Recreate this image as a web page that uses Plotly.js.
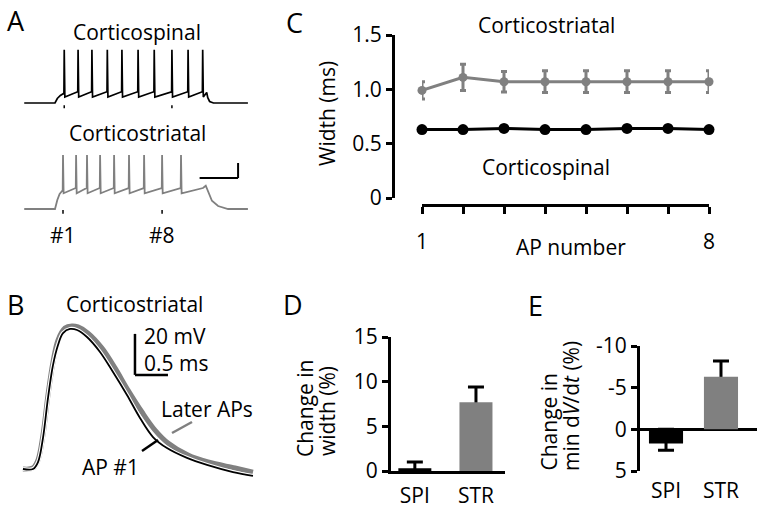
<!DOCTYPE html>
<html><head><meta charset="utf-8">
<script src="https://cdn.plot.ly/plotly-3.0.1.min.js"></script>
<style>html,body{margin:0;padding:0;background:#fff}#chart{width:760px;height:508px}</style>
</head><body><div id="chart"></div>
<script>
// ---------------- DATA ----------------
// Panel A: spike trains (time in ms, voltage in mV)
const spiSpikeT = [60, 150, 240, 340, 435, 540, 645, 760, 865, 960];
const spiPeakV = [1, 1, 1, 1, 1, 1, 1, 1, 1, 1];
const spiThreshV = [-57, -55, -55, -55, -55, -55, -55, -55, -55, -55];
const spiTroughV = [-62, -62, -62, -62, -62, -62, -62, -62, -62, -62];
const spiOnsetT = [-200, 0, 15, 35];
const spiOnsetV = [-70, -70, -64, -60];
const spiOffsetT = [986, 993, 1005, 1030, 1254];
const spiOffsetV = [-56, -63, -68, -70, -70];

const strSpikeT = [52, 137, 208, 293, 384, 481, 579, 696, 819];
const strPeakV = [2, 2, 2, 2, 2, 2, 2, 2, 2];
const strThreshV = [-45, -42, -42, -42, -42, -42, -42, -42, -42];
const strTroughV = [-49, -49, -49, -49, -49, -49, -49, -49, -49];
const strOnsetT = [-200, 0, 15, 30];
const strOnsetV = [-70, -70, -58, -50];
const strOffsetT = [962, 980, 1001, 1020, 1060, 1125, 1254];
const strOffsetV = [-42, -39, -51, -59, -66, -70, -70];

// Panel B: AP waveforms (ms, mV)
const ap1T = [0.045, 0.197, 0.273, 0.348, 0.424, 0.5, 0.576, 0.652, 0.758, 0.864, 1.015, 1.212, 1.409, 1.621, 1.818, 2.015, 2.227, 2.530, 2.833, 3.227, 3.530];
const ap1V = [-65, -65, -61.6, -49.9, -30.4, -14.3, -4.5, 1.3, 3.3, 2.8, -0.6, -7.9, -17.7, -28.9, -40.1, -49.4, -54.8, -59.6, -63.0, -66.5, -68.4];
const apLateT = [0.045, 0.197, 0.273, 0.348, 0.424, 0.5, 0.576, 0.682, 0.788, 0.879, 1.030, 1.242, 1.439, 1.636, 1.848, 2.045, 2.242, 2.545, 2.848, 3.258, 3.530];
const apLateV = [-65, -64.5, -60.6, -48.4, -28.9, -12.8, -2.1, 3.8, 4.8, 4.3, 1.3, -6.0, -15.7, -26.5, -37.2, -46.0, -52.3, -58.2, -61.6, -64.5, -66.5];

// Panel C: AP width vs AP number
const apNumber = [1, 2, 3, 4, 5, 6, 7, 8];
const widthStr = [0.99, 1.11, 1.07, 1.07, 1.07, 1.07, 1.07, 1.07];
const widthStrErr = [0.08, 0.12, 0.095, 0.1, 0.1, 0.1, 0.1, 0.1];
const widthSpi = [0.63, 0.63, 0.64, 0.63, 0.63, 0.64, 0.64, 0.63];
const widthSpiErr = [0.01, 0.01, 0.01, 0.01, 0.01, 0.01, 0.01, 0.01];

// Panels D, E
const groups = ['SPI', 'STR'];
const widthChange = [0.3, 7.7];
const widthChangeErr = [0.7, 1.7];
const dvdtChange = [1.7, -6.3];
const dvdtChangeErr = [0.8, 1.9];
const yTicksC = [0, 0.5, 1, 1.5];
const yTickTextC = ['0', '0.5', '1.0', '1.5'];
const yTicksD = [0, 5, 10, 15];
const yTicksE = [-10, -5, 0, 5];
const yTickTextE = ['-10', '-5', '0', '5'];

// ---------------- helpers ----------------
const W = 760, H = 508;
const px = v => v / W, py = v => 1 - v / H;
const BLACK = '#000000', GRAY = '#808080';
const FONT = 'Open Sans, Noto Sans, sans-serif';

function buildTrain(onT, onV, spT, thr, pk, tr, offT, offV) {
  const t = onT.slice(), v = onV.slice();
  spT.forEach((s, i) => {
    t.push(s - 2, s, s + 4);
    v.push(thr[i], pk[i], tr[i]);
  });
  return {t: t.concat(offT), v: v.concat(offV)};
}
const spiTrain = buildTrain(spiOnsetT, spiOnsetV, spiSpikeT, spiThreshV, spiPeakV, spiTroughV, spiOffsetT, spiOffsetV);
const strTrain = buildTrain(strOnsetT, strOnsetV, strSpikeT, strThreshV, strPeakV, strTroughV, strOffsetT, strOffsetV);

const hidden = {visible: false, fixedrange: true};
const traces = [
  {x: spiTrain.t, y: spiTrain.v, xaxis: 'x', yaxis: 'y', mode: 'lines', line: {color: BLACK, width: 1.7}, hoverinfo: 'skip'},
  {x: strTrain.t, y: strTrain.v, xaxis: 'x2', yaxis: 'y2', mode: 'lines', line: {color: GRAY, width: 1.8}, hoverinfo: 'skip'},
  {x: apLateT, y: apLateV, xaxis: 'x3', yaxis: 'y3', mode: 'lines', line: {color: GRAY, width: 5, shape: 'spline'}, hoverinfo: 'skip'},
  {x: ap1T, y: ap1V, xaxis: 'x3', yaxis: 'y3', mode: 'lines', line: {color: '#ffffff', width: 4, shape: 'spline'}, hoverinfo: 'skip'},
  {x: ap1T, y: ap1V, xaxis: 'x3', yaxis: 'y3', mode: 'lines', line: {color: BLACK, width: 1.8, shape: 'spline'}, hoverinfo: 'skip'},
  {x: apNumber, y: widthStr, xaxis: 'x4', yaxis: 'y4', mode: 'lines+markers', cliponaxis: false,
   line: {color: GRAY, width: 3}, marker: {color: GRAY, size: 9, symbol: 'circle'},
   error_y: {type: 'data', array: widthStrErr, color: GRAY, thickness: 3, width: 3}},
  {x: apNumber, y: widthSpi, xaxis: 'x4', yaxis: 'y4', mode: 'lines+markers', cliponaxis: false,
   line: {color: BLACK, width: 3}, marker: {color: BLACK, size: 11, symbol: 'circle'},
   error_y: {type: 'data', array: widthSpiErr, color: BLACK, thickness: 2, width: 3}},
  // D: error carrier (drawn under the bars) + bars
  {type: 'bar', x: groups, y: widthChange, xaxis: 'x5', yaxis: 'y5', width: 0.54,
   marker: {color: 'rgba(0,0,0,0)'},
   error_y: {type: 'data', symmetric: false, array: widthChangeErr, arrayminus: widthChange, color: BLACK, thickness: 3, width: 8}},
  {type: 'bar', x: groups, y: widthChange, xaxis: 'x5', yaxis: 'y5', width: 0.54, marker: {color: [BLACK, GRAY]}},
  // E
  {type: 'bar', x: groups, y: dvdtChange, xaxis: 'x6', yaxis: 'y6', width: 0.62,
   marker: {color: 'rgba(0,0,0,0)'},
   error_y: {type: 'data', symmetric: false,
     array: dvdtChange.map((v, i) => v >= 0 ? dvdtChangeErr[i] : -v),
     arrayminus: dvdtChange.map((v, i) => v >= 0 ? v : dvdtChangeErr[i]),
     color: BLACK, thickness: 3, width: 8}},
  {type: 'bar', x: groups, y: dvdtChange, xaxis: 'x6', yaxis: 'y6', width: 0.62, marker: {color: [BLACK, GRAY]}}
];

const axBase = {showgrid: false, zeroline: false, fixedrange: true, linecolor: BLACK, tickcolor: BLACK,
  tickfont: {family: FONT, size: 21, color: BLACK}};

const layout = {
  width: W, height: H, margin: {l: 0, r: 0, t: 0, b: 0}, showlegend: false,
  paper_bgcolor: '#fff', plot_bgcolor: 'rgba(0,0,0,0)', barmode: 'overlay',
  font: {family: FONT, size: 21, color: BLACK},
  xaxis: Object.assign({domain: [px(20), px(252)], range: [-227.5, 1280.5], anchor: 'y'}, hidden),
  yaxis: Object.assign({domain: [py(115), py(40)], range: [-86, 14], anchor: 'x'}, hidden),
  xaxis2: Object.assign({domain: [px(20), px(252)], range: [-227.5, 1280.5], anchor: 'y2'}, hidden),
  yaxis2: Object.assign({domain: [py(220), py(145)], range: [-84.67, 15.33], anchor: 'x2'}, hidden),
  xaxis3: Object.assign({domain: [px(20), px(258)], range: [0, 3.606], anchor: 'y3'}, hidden),
  yaxis3: Object.assign({domain: [py(482), py(320)], range: [-71.34, 7.68], anchor: 'x3'}, hidden),
  xaxis4: Object.assign({}, axBase, {domain: [px(422), px(709)], range: [1, 8], anchor: 'free', position: py(205),
    showline: true, linewidth: 3, ticks: 'outside', ticklen: 7, tickwidth: 3,
    tickvals: apNumber, ticktext: apNumber.map((n, i) => (i === 0 || i === apNumber.length - 1) ? String(n) : ''),
    ticklabelstandoff: 10}),
  yaxis4: Object.assign({}, axBase, {domain: [py(198), py(35)], range: [0, 1.5], anchor: 'free', position: px(393),
    showline: true, linewidth: 3, ticks: 'outside', ticklen: 6, tickwidth: 3,
    tickvals: yTicksC, ticktext: yTickTextC}),
  xaxis5: Object.assign({}, axBase, {domain: [px(391), px(505)], range: [-0.39, 1.475], anchor: 'y5', type: 'category',
    showline: true, linewidth: 3, ticks: '', ticklabelstandoff: 4}),
  yaxis5: Object.assign({}, axBase, {domain: [py(471), py(337)], range: [0, 15], anchor: 'x5',
    showline: true, linewidth: 3, ticks: 'outside', ticklen: 6, tickwidth: 3, tickvals: yTicksD}),
  xaxis6: Object.assign({}, axBase, {domain: [px(640), px(757)], range: [-0.473, 1.655], anchor: 'y6', type: 'category',
    showline: false, ticks: '', ticklabelstandoff: 5}),
  yaxis6: Object.assign({}, axBase, {domain: [py(471), py(346)], range: [5, -10], anchor: 'x6',
    showline: true, linewidth: 3, ticks: 'outside', ticklen: 6, tickwidth: 3,
    tickvals: yTicksE, ticktext: yTickTextE, zeroline: true, zerolinecolor: BLACK, zerolinewidth: 3}),
  shapes: [
    // A: #1 / #8 markers under traces
    {type: 'line', xref: 'x', yref: 'y', x0: spiSpikeT[0], x1: spiSpikeT[0], y0: -73, y1: -77, line: {color: BLACK, width: 1.5}},
    {type: 'line', xref: 'x', yref: 'y', x0: spiSpikeT[7], x1: spiSpikeT[7], y0: -73, y1: -77, line: {color: BLACK, width: 1.5}},
    {type: 'line', xref: 'x2', yref: 'y2', x0: strSpikeT[0], x1: strSpikeT[0], y0: -71.5, y1: -76.5, line: {color: BLACK, width: 1.5}},
    {type: 'line', xref: 'x2', yref: 'y2', x0: strSpikeT[7], x1: strSpikeT[7], y0: -71.5, y1: -76.5, line: {color: BLACK, width: 1.5}},
    // A scale bar (250 ms, 20 mV)
    {type: 'line', xref: 'x2', yref: 'y2', x0: 940, x1: 1190, y0: -28.7, y1: -28.7, line: {color: BLACK, width: 2}},
    {type: 'line', xref: 'x2', yref: 'y2', x0: 1190, x1: 1190, y0: -28.7, y1: -8.7, line: {color: BLACK, width: 2}},
    // B scale bar (0.5 ms, 20 mV)
    {type: 'line', xref: 'x3', yref: 'y3', x0: 1.742, x1: 1.742, y0: -19.1, y1: 0.9, line: {color: BLACK, width: 2.5}},
    {type: 'line', xref: 'x3', yref: 'y3', x0: 1.742, x1: 2.242, y0: -19.1, y1: -19.1, line: {color: BLACK, width: 2.5}},
    // B pointer lines
    {type: 'line', xref: 'paper', yref: 'paper', x0: px(172), x1: px(192), y0: py(433), y1: py(422), line: {color: GRAY, width: 2.5}},
    {type: 'line', xref: 'paper', yref: 'paper', x0: px(142), x1: px(158), y0: py(451), y1: py(440), line: {color: BLACK, width: 2.5}}
  ],
  annotations: []
};

function ann(text, x, y, opts) {
  layout.annotations.push(Object.assign({text: text, xref: 'paper', yref: 'paper', x: px(x), y: py(y),
    xanchor: 'center', yanchor: 'middle', showarrow: false, font: {family: FONT, size: 21, color: BLACK}}, opts || {}));
}
// panel letters
[['A', 16, 20], ['B', 15, 304], ['C', 294, 22], ['D', 293, 304], ['E', 535, 305]].forEach(l =>
  ann(l[0], l[1], l[2], {font: {family: FONT, size: 27, color: BLACK}}));
// A
ann('Corticospinal', 137, 32);
ann('Corticostriatal', 137, 133);
ann('#1', 63, 235);
ann('#8', 162, 235);
// B
ann('Corticostriatal', 134, 304);
ann('20 mV<br>0.5 ms', 143, 349, {xanchor: 'left', align: 'left', borderpad: 0});
ann('Later APs', 207, 409);
ann('AP #1', 110, 467);
// C
ann('Corticostriatal', 546, 25);
ann('Corticospinal', 546, 167);
ann('AP number', 571, 247);
ann('Width (ms)', 327, 114, {textangle: -90});
// D
ann('Change in', 305, 409, {textangle: -90});
ann('width (%)', 327, 411, {textangle: -90});
// E
ann('Change in', 548, 473, {textangle: -90, yanchor: 'bottom'});
ann('min d<i>V</i>/d<i>t</i> (%)', 571, 473, {textangle: -90, yanchor: 'bottom'});

Plotly.newPlot('chart', traces, layout, {displayModeBar: false, staticPlot: true});
</script></body></html>
